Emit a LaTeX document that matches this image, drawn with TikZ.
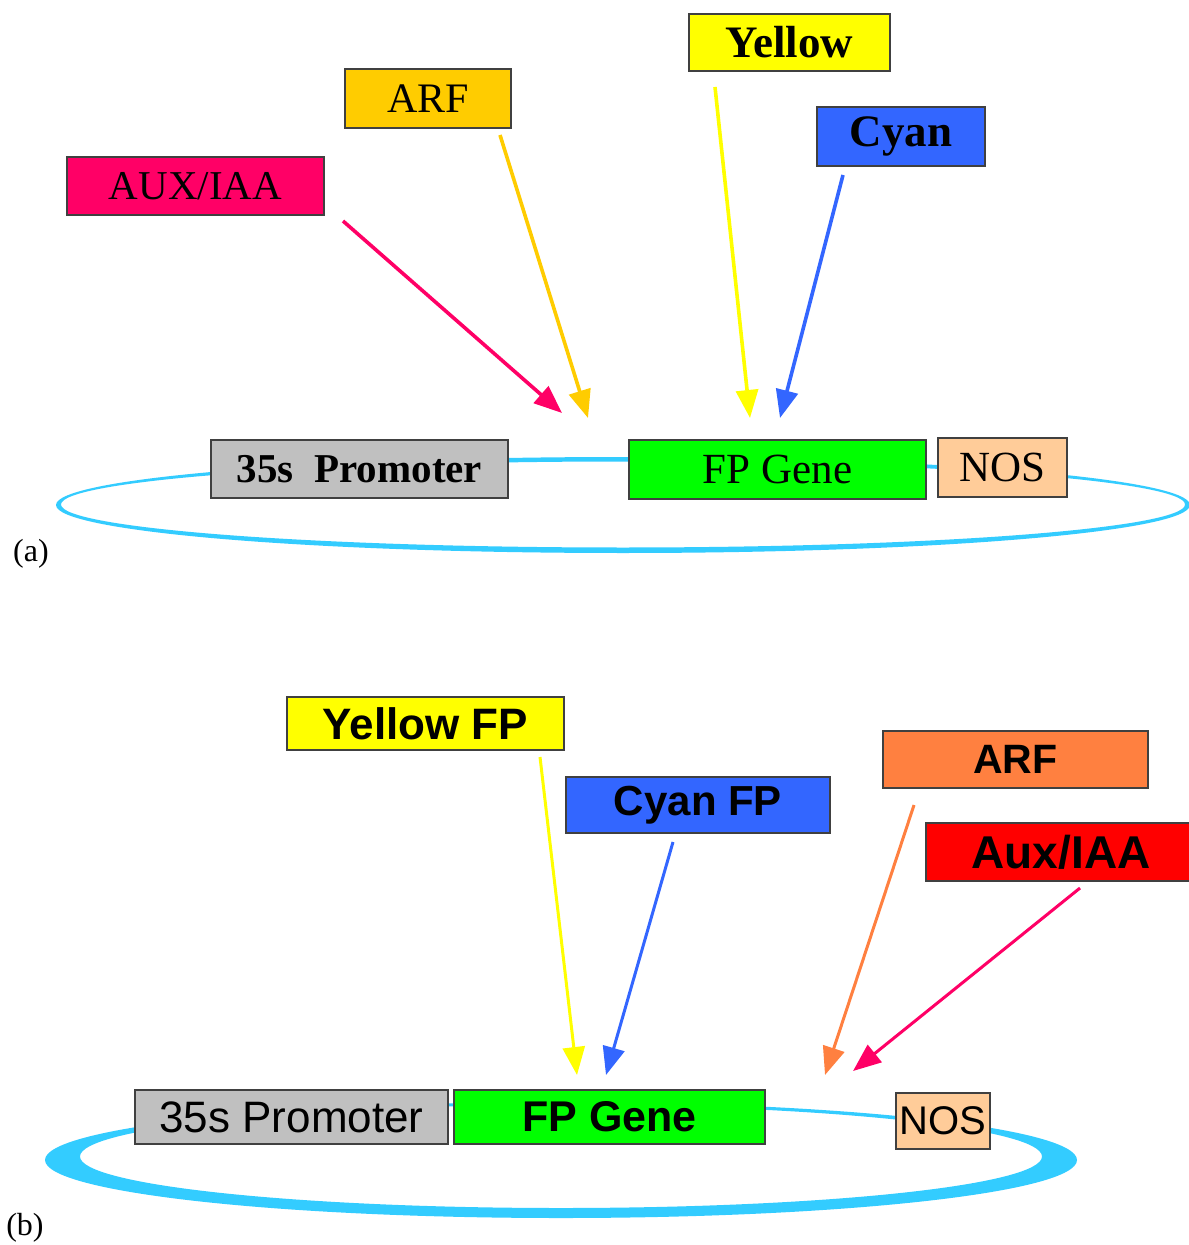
\documentclass[tikz,border=0pt]{standalone}
\usepackage{fontspec}
\setmainfont{Liberation Serif}
\newfontfamily\sansf{Liberation Sans}
\usetikzlibrary{arrows.meta}
\definecolor{ringc}{HTML}{33CCFF}
\definecolor{cmag}{HTML}{FF0066}
\definecolor{cgold}{HTML}{FFCC00}
\definecolor{cyel}{HTML}{FFFF00}
\definecolor{cblue}{HTML}{3366FF}
\definecolor{cgray}{HTML}{C0C0C0}
\definecolor{cgreen}{HTML}{00FF00}
\definecolor{cpeach}{HTML}{FFCC99}
\definecolor{corange}{HTML}{FF8040}
\definecolor{cred}{HTML}{FF0000}
\newcommand{\fsz}[1]{\fontsize{#1}{#1}\selectfont}
\begin{document}
\begin{tikzpicture}[x=0.5pt,y=-0.5pt,
  box/.style={draw=black!75, line width=0.7pt, inner sep=0pt, outer sep=0pt},
  arrA/.style={line width=1.8pt, -{Triangle[length=14pt,width=11pt]}},
  arrB/.style={line width=1.5pt, -{Triangle[length=14pt,width=11pt]}}]
\useasboundingbox (0,0) rectangle (1188,1245);
\fill[white] (0,0) rectangle (1188,1245);

% rings
\fill[ringc, even odd rule] (623,505) ellipse [x radius=283.5pt, y radius=24pt]
  (623,504.5) ellipse [x radius=281pt, y radius=21.5pt];
\fill[ringc, even odd rule] (561,1160) ellipse [x radius=258pt, y radius=29pt]
  (561,1156.5) ellipse [x radius=240.5pt, y radius=25.75pt];

% (a) boxes
\node[box,fill=cmag,minimum width=128.5pt,minimum height=29pt] (auxa) at (195.5,186) {\fsz{20.5pt}AUX/IAA};
\node[box,fill=cgold,minimum width=83pt,minimum height=29.5pt] (arfa) at (428,98.5) {\fsz{21pt}ARF};
\node[box,fill=cyel,minimum width=100.5pt,minimum height=28.5pt] (yela) at (789.5,42.5) {\fsz{22.5pt}\bfseries Yellow};
\node[box,fill=cblue,minimum width=84pt,minimum height=29.5pt] (cyana) at (901,136.5) {\fsz{22.5pt}\bfseries Cyan};
\node[box,fill=cgray,minimum width=148.5pt,minimum height=29pt] (proma) at (359.5,469) {\fsz{20.5pt}\bfseries 35s\ \ Promoter};
\node[box,fill=cgreen,minimum width=148.5pt,minimum height=29.5pt] (genea) at (777.5,469.5) {\fsz{21.5pt}FP Gene};
\node[box,fill=cpeach,minimum width=64.5pt,minimum height=29.5pt] (nosa) at (1002.5,467.5) {\fsz{21.5pt}NOS};

% (a) arrows
\coordinate (auxa-s) at (343,221); \coordinate (auxa-t) at (562,413);
\coordinate (arfa-s) at (500,135); \coordinate (arfa-t) at (588,418);
\coordinate (yela-s) at (715,87);  \coordinate (yela-t) at (750,418);
\coordinate (cyana-s) at (843,175); \coordinate (cyana-t) at (780,418);
\draw[arrA, cmag] (auxa-s) -- (auxa-t);
\draw[arrA, cgold] (arfa-s) -- (arfa-t);
\draw[arrA, cyel] (yela-s) -- (yela-t);
\draw[arrA, cblue] (cyana-s) -- (cyana-t);

\node[font=\fsz{16pt}] (la) at (31,554) {(a)};

% (b) boxes
\node[box,fill=cyel,minimum width=138.5pt,minimum height=26.5pt] (yelb) at (425.5,723.5) {\sansf\fsz{22pt}\bfseries Yellow FP};
\node[box,fill=cblue,minimum width=132pt,minimum height=28pt] (cyanb) at (698,805) {\sansf\fsz{21pt}\bfseries Cyan FP};
\node[box,fill=corange,minimum width=132.5pt,minimum height=28.5pt] (arfb) at (1015.5,759.5) {\sansf\fsz{20.5pt}\bfseries ARF};
\node[box,fill=cred,minimum width=135pt,minimum height=29pt] (auxb) at (1061,852) {\sansf\fsz{23pt}\bfseries Aux/IAA};
\node[box,fill=cgray,minimum width=156.5pt,minimum height=27pt] (promb) at (291.5,1117) {\sansf\fsz{22pt}35s Promoter};
\node[box,fill=cgreen,minimum width=155.5pt,minimum height=27pt] (geneb) at (609.5,1117) {\sansf\fsz{21.5pt}\bfseries FP Gene};
\node[box,fill=cpeach,minimum width=47pt,minimum height=28pt] (nosb) at (943,1121) {\sansf\fsz{20pt}NOS};

% (b) arrows
\coordinate (yelb-s) at (540,757);  \coordinate (yelb-t) at (577,1075);
\coordinate (cyanb-s) at (673,842); \coordinate (cyanb-t) at (606,1075);
\coordinate (arfb-s) at (914,805);  \coordinate (arfb-t) at (825,1075);
\coordinate (auxb-s) at (1080,888); \coordinate (auxb-t) at (853,1071);
\draw[arrB, cyel] (yelb-s) -- (yelb-t);
\draw[arrB, cblue] (cyanb-s) -- (cyanb-t);
\draw[arrB, corange] (arfb-s) -- (arfb-t);
\draw[arrB, cmag] (auxb-s) -- (auxb-t);

\node[font=\fsz{16pt}] (lb) at (25,1228) {(b)};
\end{tikzpicture}
\end{document}
